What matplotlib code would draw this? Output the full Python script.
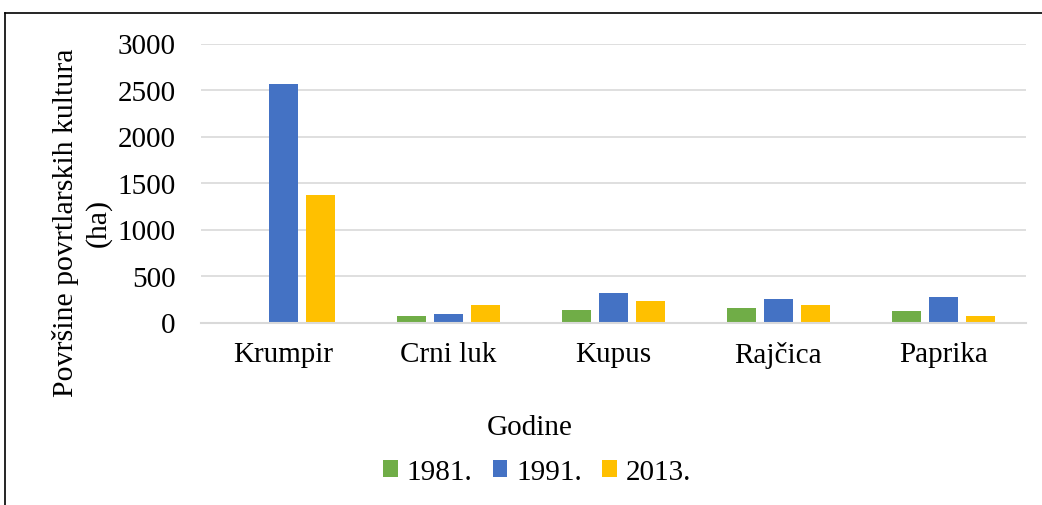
import numpy as np
import matplotlib
matplotlib.use("Agg")
import matplotlib.pyplot as plt
from matplotlib.lines import Line2D
from matplotlib.patches import Patch

# data
categories = ["Krumpir", "Crni luk", "Kupus", "Rajčica", "Paprika"]
years = ["1981.", "1991.", "2013."]
v1981 = [0, 65, 134, 156, 123]
v1991 = [2561, 90, 319, 250, 275]
v2013 = [1375, 188, 232, 188, 69]
colors = ["#70ad47", "#4472c4", "#ffc000"]

plt.rcParams["font.family"] = ["Liberation Serif", "DejaVu Serif"]

W, H = 1042, 506
fig = plt.figure(figsize=(W / 100, H / 100), dpi=100)
ax = fig.add_axes([200.5 / W, 1 - 323.5 / H, 825.5 / W, 279 / H])

x = np.arange(len(categories))
step = 0.224
width = 0.176
for i, (vals, col) in enumerate(zip([v1981, v1991, v2013], colors)):
    ax.bar(x + (i - 1) * step, vals, width=width, color=col, zorder=3)

ax.set_xlim(-0.5, len(categories) - 0.5)
ax.set_ylim(0, 3000)
ax.set_yticks(range(0, 3001, 500))
ax.set_xticks(x)
ax.set_xticklabels(categories)
ax.yaxis.grid(True, color="#d9d9d9", linewidth=1.2, zorder=0)
for s in ["top", "right", "left"]:
    ax.spines[s].set_visible(False)
ax.spines["bottom"].set_color("#d9d9d9")
ax.spines["bottom"].set_linewidth(1.5)
ax.spines["bottom"].set_zorder(4)
ax.tick_params(axis="both", length=0, labelsize=21, colors="black")
ax.tick_params(axis="y", pad=18)
ax.tick_params(axis="x", pad=13)

ax.set_ylabel("Površine povrtlarskih kultura\n(ha)", fontsize=21.5, linespacing=1.3)
ax.yaxis.set_label_coords((112 - 200.5) / 825.5, (323.5 - 223) / 279)

fig.text(530 / W, 1 - 428 / H, "Godine", fontsize=21, ha="center", va="center")

handles = [Patch(facecolor=c) for c in colors]
fig.legend(handles, years, loc="center", bbox_to_anchor=(537 / W, 1 - 473 / H),
           ncol=3, frameon=False, fontsize=21, handlelength=0.5, handleheight=0.5,
           handletextpad=0.3, columnspacing=0.7)

# outer chart border (partially cut)
fx = 4.5 / W
fy = 1 - 14 / H
fig.add_artist(Line2D([fx, fx], [0, fy], color="black", linewidth=1.2))
fig.add_artist(Line2D([fx, 1], [fy, fy], color="black", linewidth=1.2))

fig.savefig("out.png", dpi=100, facecolor="white")
